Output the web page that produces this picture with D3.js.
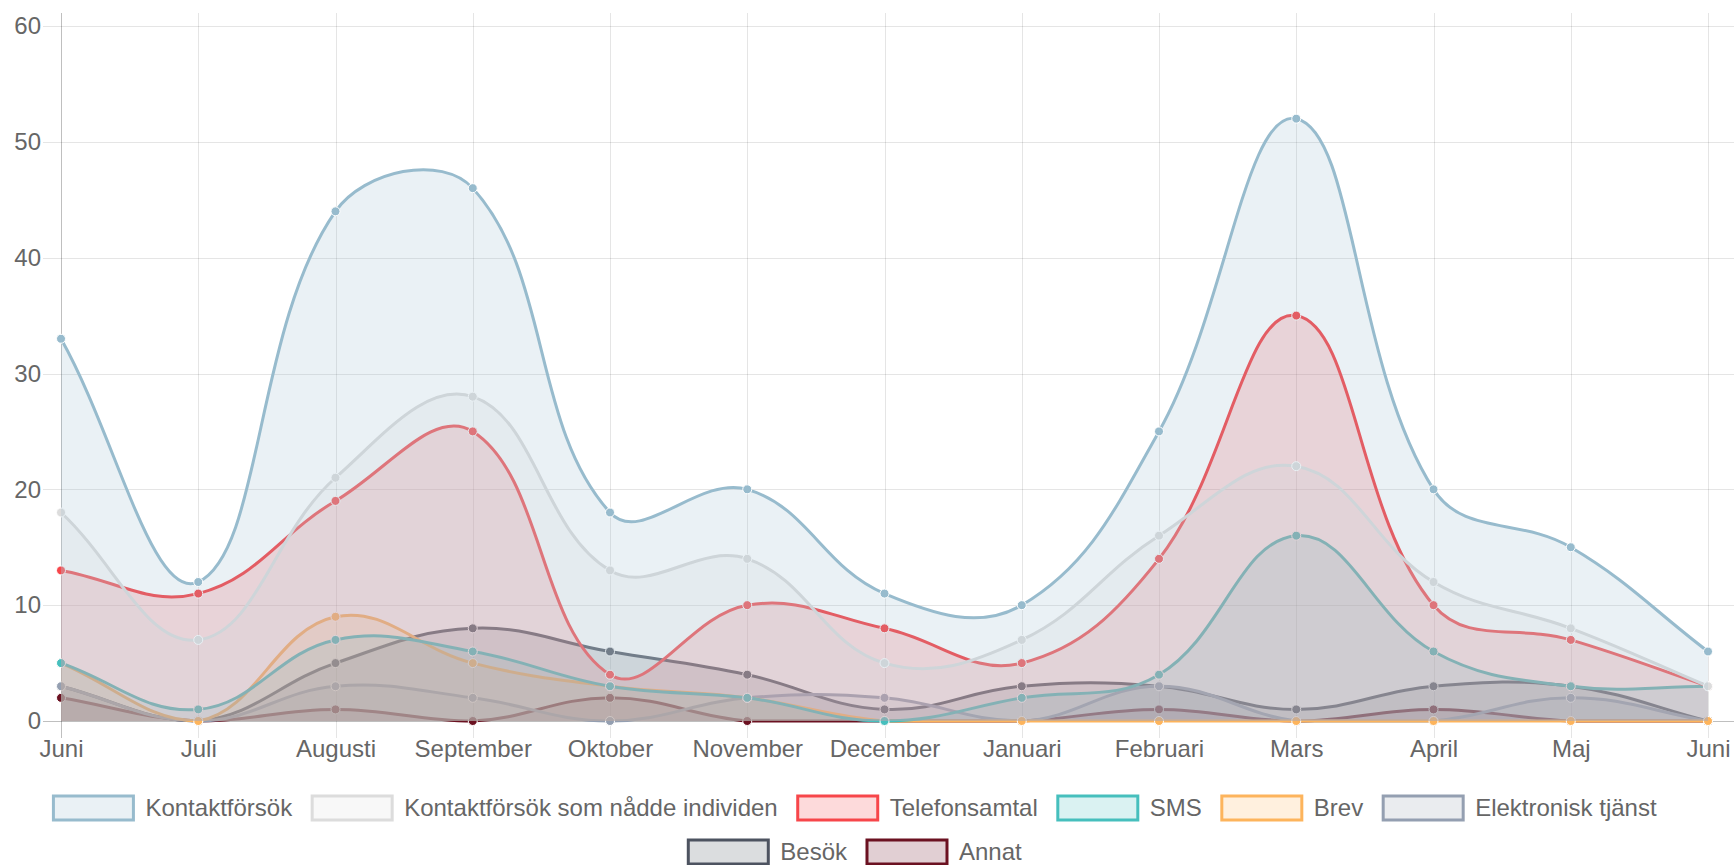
<!DOCTYPE html>
<html>

<head>
    <meta http-equiv="content-type" content="text/html; charset=utf-8">
    <title>Kontaktförsök per månad</title>
    <script src="https://cdn.jsdelivr.net/npm/d3@7/dist/d3.min.js"></script>
</head>

<style>
    body {
        margin: 0;
        background-color: white;
    }

    text {
        font-family: "Helvetica Neue", Helvetica, Arial, "Liberation Sans", sans-serif;
        font-size: 24px;
        fill: #666;
    }
</style>

<body>
    <svg width="1734" height="865" id="mainsvg"></svg>
    <script>
        // month labels (starts and ends with Juni)
        const months = ['Juni', 'Juli', 'Augusti', 'September', 'Oktober', 'November', 'December',
            'Januari', 'Februari', 'Mars', 'April', 'Maj', 'Juni'];
        const yTicks = [0, 10, 20, 30, 40, 50, 60];

        const seriesNames = ['Kontaktförsök', 'Kontaktförsök som nådde individen', 'Telefonsamtal',
            'SMS', 'Brev', 'Elektronisk tjänst', 'Besök', 'Annat'];
        const seriesColors = [[151, 187, 205], [220, 220, 220], [247, 70, 74], [70, 191, 189],
            [253, 180, 92], [148, 159, 177], [77, 83, 96], [107, 17, 33]];

        const kontaktforsok = [33, 12, 44, 46, 18, 20, 11, 10, 25, 52, 20, 15, 6];
        const naddeIndividen = [18, 7, 21, 28, 13, 14, 5, 7, 16, 22, 12, 8, 3];
        const telefonsamtal = [13, 11, 19, 25, 4, 10, 8, 5, 14, 35, 10, 7, 3];
        const sms = [5, 1, 7, 6, 3, 2, 0, 2, 4, 16, 6, 3, 3];
        const brev = [5, 0, 9, 5, 3, 2, 0, 0, 0, 0, 0, 0, 0];
        const elektronisk = [3, 0, 3, 2, 0, 2, 2, 0, 3, 0, 0, 2, 0];
        const besok = [3, 0, 5, 8, 6, 4, 1, 3, 3, 1, 3, 3, 0];
        const annat = [2, 0, 1, 0, 2, 0, 0, 0, 1, 0, 1, 0, 0];

        const seriesValues = [kontaktforsok, naddeIndividen, telefonsamtal, sms, brev, elektronisk, besok, annat];

        const svg = d3.select('#mainsvg');
        const width = +svg.attr('width');

        // chart area (grid goes to the right edge, points are inset for the last label)
        const area = { left: 61, right: width, top: 13, bottom: 721 };

        const xScale = d3.scalePoint()
            .domain(d3.range(months.length))
            .range([61, 1708]);
        const yScale = d3.scaleLinear()
            .domain([0, 60])
            .range([area.bottom, 26]);

        const rgba = (c, a) => `rgba(${c[0]},${c[1]},${c[2]},${a})`;

        // grid
        const grid = svg.append('g').attr('id', 'grid');
        grid.selectAll('.hline').data(yTicks).join('line')
            .attr('class', 'hline')
            .attr('x1', 43).attr('x2', area.right)
            .attr('y1', d => Math.round(yScale(d)) + 0.5).attr('y2', d => Math.round(yScale(d)) + 0.5)
            .attr('stroke', d => d === 0 ? 'rgba(0,0,0,0.25)' : 'rgba(0,0,0,0.1)');
        grid.selectAll('.vline').data(d3.range(months.length)).join('line')
            .attr('class', 'vline')
            .attr('x1', d => Math.round(xScale(d)) + 0.5).attr('x2', d => Math.round(xScale(d)) + 0.5)
            .attr('y1', area.top).attr('y2', area.bottom + 17)
            .attr('stroke', d => d === 0 ? 'rgba(0,0,0,0.25)' : 'rgba(0,0,0,0.1)');

        // axes labels
        const yAxis = d3.axisLeft(yScale).tickValues(yTicks).tickSize(0).tickPadding(20);
        const xAxis = d3.axisBottom(xScale).tickFormat(i => months[i]).tickSize(0).tickPadding(19);
        svg.append('g').attr('id', 'yaxis').attr('transform', 'translate(61,0)').call(yAxis);
        svg.append('g').attr('id', 'xaxis').attr('transform', `translate(0,${area.bottom})`).call(xAxis);
        svg.selectAll('#yaxis path, #xaxis path').remove();
        svg.selectAll('#yaxis text, #xaxis text')
            .attr('font-size', null).attr('font-family', null).attr('fill', null);

        // Chart.js style bezier (tension 0.4, control points capped to chart area)
        const clamp = (v, lo, hi) => Math.max(lo, Math.min(hi, v));
        function splinePath(pts, closeToY) {
            const t = 0.4;
            const cps = pts.map((p, i) => {
                const prev = pts[i - 1] || p, next = pts[i + 1] || p;
                const d01 = Math.hypot(p[0] - prev[0], p[1] - prev[1]);
                const d12 = Math.hypot(next[0] - p[0], next[1] - p[1]);
                let s01 = d01 / (d01 + d12), s12 = d12 / (d01 + d12);
                if (isNaN(s01)) s01 = 0;
                if (isNaN(s12)) s12 = 0;
                const fa = t * s01, fb = t * s12;
                return {
                    px: clamp(p[0] - fa * (next[0] - prev[0]), area.left, area.right),
                    py: clamp(p[1] - fa * (next[1] - prev[1]), area.top, area.bottom),
                    nx: clamp(p[0] + fb * (next[0] - prev[0]), area.left, area.right),
                    ny: clamp(p[1] + fb * (next[1] - prev[1]), area.top, area.bottom)
                };
            });
            const path = d3.path();
            path.moveTo(pts[0][0], pts[0][1]);
            for (let i = 1; i < pts.length; i++) {
                path.bezierCurveTo(cps[i - 1].nx, cps[i - 1].ny, cps[i].px, cps[i].py, pts[i][0], pts[i][1]);
            }
            if (closeToY !== undefined) {
                path.lineTo(pts[pts.length - 1][0], closeToY);
                path.lineTo(pts[0][0], closeToY);
                path.closePath();
            }
            return path.toString();
        }

        // datasets, last one drawn first so the first one ends on top
        const plot = svg.append('g').attr('id', 'plot');
        d3.range(seriesValues.length).reverse().forEach(k => {
            const c = seriesColors[k];
            const pts = seriesValues[k].map((v, i) => [xScale(i), yScale(v)]);
            const g = plot.append('g').attr('class', 'dataset');
            g.append('path')
                .attr('d', splinePath(pts, yScale(0)))
                .attr('fill', rgba(c, 0.2));
            g.append('path')
                .attr('d', splinePath(pts))
                .attr('fill', 'none')
                .attr('stroke', rgba(c, 1))
                .attr('stroke-width', 3);
            g.selectAll('circle').data(pts).join('circle')
                .attr('cx', d => d[0]).attr('cy', d => d[1])
                .attr('r', 4.5)
                .attr('fill', rgba(c, 1))
                .attr('stroke', '#fff')
                .attr('stroke-width', 1);
        });

        // legend, centred rows like Chart.js
        const legend = svg.append('g').attr('id', 'legend');
        const boxW = 80, boxH = 24, pad = 20, fontSize = 24, legendW = 1730;
        const measure = legend.append('text');
        const items = seriesNames.map((name, k) => {
            measure.text(name);
            return { name: name, k: k, w: boxW + fontSize / 2 + measure.node().getComputedTextLength() };
        });
        measure.remove();

        const rows = [[]];
        let rowW = 0;
        items.forEach(it => {
            if (rowW + it.w + pad >= legendW && rows[rows.length - 1].length) {
                rows.push([]);
                rowW = 0;
            }
            rows[rows.length - 1].push(it);
            rowW += it.w + pad;
        });

        rows.forEach((row, r) => {
            const total = d3.sum(row, d => d.w + pad);
            let x = (legendW - total) / 2;
            const y = 796 + r * (fontSize + pad);
            row.forEach(it => {
                const c = seriesColors[it.k];
                legend.append('rect')
                    .attr('x', x).attr('y', y)
                    .attr('width', boxW).attr('height', boxH)
                    .attr('fill', rgba(c, 0.2))
                    .attr('stroke', rgba(c, 1))
                    .attr('stroke-width', 3);
                legend.append('text')
                    .attr('x', x + boxW + fontSize / 2)
                    .attr('y', y + boxH / 2)
                    .attr('dy', '0.35em')
                    .text(it.name);
                x += it.w + pad;
            });
        });
    </script>
</body>

</html>
